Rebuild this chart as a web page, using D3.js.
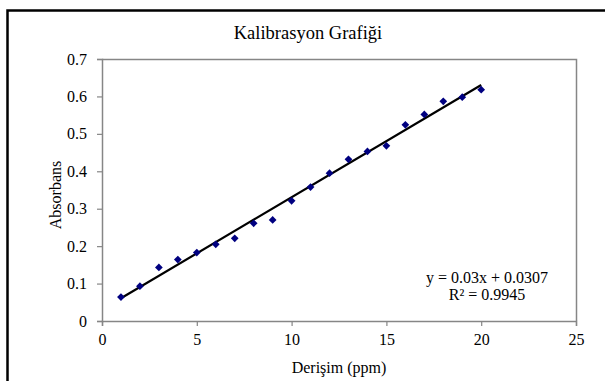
<!DOCTYPE html>
<html>
<head>
<meta charset="utf-8">
<script src="https://cdn.jsdelivr.net/npm/d3@7"></script>
<style>
html, body { margin: 0; padding: 0; background: #fff; }
svg { display: block; }
</style>
</head>
<body>
<svg id="chart" width="605" height="381"></svg>
<script>
// ---- data ----
const concentration = [1, 2, 3, 4, 5, 6, 7, 8, 9, 10, 11, 12, 13, 14, 15, 16, 17, 18, 19, 20];
const absorbance = [0.064, 0.093, 0.143, 0.164, 0.183, 0.205, 0.221, 0.261, 0.270, 0.321,
                    0.358, 0.395, 0.432, 0.453, 0.468, 0.524, 0.552, 0.587, 0.598, 0.618];
const trendSlope = [0.03];
const trendIntercept = [0.0307];
const trendRange = [1, 20];
const xTicks = [0, 5, 10, 15, 20, 25];
const yTicks = [0, 0.1, 0.2, 0.3, 0.4, 0.5, 0.6, 0.7];
const titleText = "Kalibrasyon Grafiği";
const xTitle = "Derişim (ppm)";
const yTitle = "Absorbans";
const eqLines = ["y = 0.03x + 0.0307", "R² = 0.9945"];

// ---- layout ----
const svg = d3.select("#chart");
const font = "'Liberation Serif', 'Times New Roman', serif";
const L = 102, R = 576, T = 59, B = 321;
const grey = "#868686";

const x = d3.scaleLinear().domain([0, 25]).range([L, R]);
const y = d3.scaleLinear().domain([0, 0.7]).range([B, T]);

// outer chart border
svg.append("rect")
  .attr("x", 7.5).attr("y", 10.5)
  .attr("width", 700).attr("height", 500)
  .attr("fill", "#fff").attr("stroke", "#000").attr("stroke-width", 2.5);

// title
svg.append("text")
  .attr("x", 308).attr("y", 39)
  .attr("text-anchor", "middle")
  .style("font-family", font).style("font-size", "18.5px").attr("fill", "#000")
  .text(titleText);

// plot border top & right
svg.append("path")
  .attr("d", `M${L},${T + 0.5}H${R + 0.5}V${B}`)
  .attr("fill", "none").attr("stroke", grey).attr("stroke-width", 1.5);

// axes
const yAxis = d3.axisLeft(y).tickValues(yTicks).tickSize(5).tickPadding(10)
  .tickFormat(d => d === 0 ? "0" : d3.format(".1f")(d));
const gy = svg.append("g").attr("transform", `translate(${L},0)`).call(yAxis);

const xAxis = d3.axisBottom(x).tickValues(xTicks).tickSize(5).tickPadding(8)
  .tickFormat(d3.format("d"));
const gx = svg.append("g").attr("transform", `translate(0,${B})`).call(xAxis);

[gx, gy].forEach(g => {
  g.select(".domain").attr("stroke", grey).attr("stroke-width", 1.5);
  g.selectAll(".tick line").attr("stroke", grey).attr("stroke-width", 1.2);
  g.selectAll("text").style("font-family", font).style("font-size", "16px").attr("fill", "#000");
});

// trendline
const tl = trendRange.map(v => [v, trendSlope[0] * v + trendIntercept[0]]);
svg.append("path")
  .datum(tl)
  .attr("d", d3.line().x(d => x(d[0])).y(d => y(d[1])))
  .attr("fill", "none").attr("stroke", "#000").attr("stroke-width", 2.2);

// points (diamonds)
const diamond = d3.symbol().type(d3.symbolSquare).size(30);
svg.append("g").selectAll("path")
  .data(concentration.map((c, i) => [c, absorbance[i]]))
  .join("path")
  .attr("transform", d => `translate(${x(d[0])},${y(d[1])}) rotate(45)`)
  .attr("d", diamond)
  .attr("fill", "#000080");

// equation
svg.append("g").selectAll("text")
  .data(eqLines)
  .join("text")
  .attr("x", 487)
  .attr("y", (d, i) => 283 + i * 17)
  .attr("text-anchor", "middle")
  .style("font-family", font).style("font-size", "16px").attr("fill", "#000")
  .text(d => d);

// axis titles
svg.append("text")
  .attr("x", (L + R) / 2).attr("y", 373)
  .attr("text-anchor", "middle")
  .style("font-family", font).style("font-size", "16px").attr("fill", "#000")
  .text(xTitle);

svg.append("text")
  .attr("transform", `translate(61,195) rotate(-90)`)
  .attr("text-anchor", "middle")
  .style("font-family", font).style("font-size", "16px").attr("fill", "#000")
  .text(yTitle);
</script>
</body>
</html>
